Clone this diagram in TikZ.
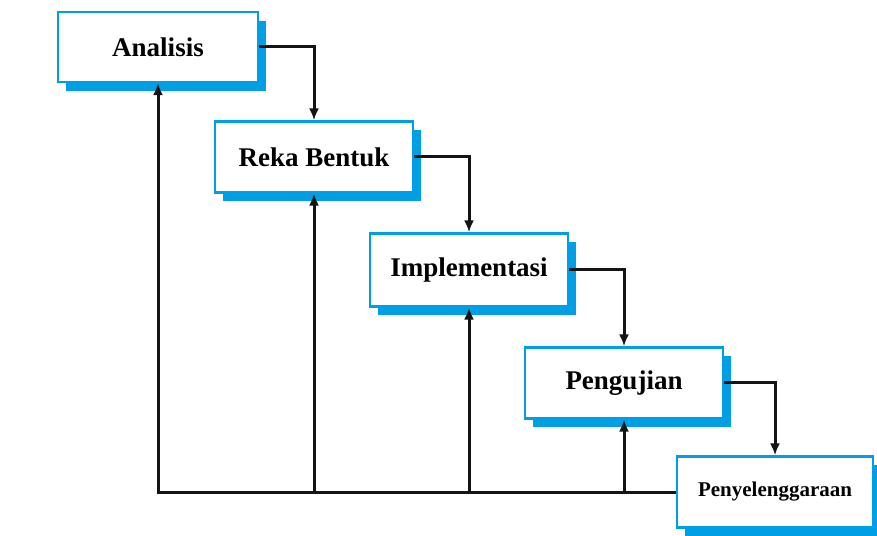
\documentclass[tikz,border=0pt]{standalone}
\usepackage{fontspec}
\setmainfont{Liberation Serif}
\usepackage{xcolor}
\definecolor{wfblue}{RGB}{0, 158, 228}
\definecolor{wfline}{RGB}{20, 20, 20}
\usepackage{tikz}
\usetikzlibrary{
    arrows.meta,
    positioning,
    calc,
    shadows
}

\begin{document}
\begin{tikzpicture}[x=1pt,y=1pt,
    phase/.style={draw=wfblue, line width=2.2pt, fill=white,
        minimum width=198pt, minimum height=71pt,
        font=\fontsize{27}{29}\selectfont\bfseries,
        drop shadow={shadow xshift=8pt, shadow yshift=-9pt,
            fill=wfblue, opacity=1}},
    flow/.style={wfline, line width=3pt, -{Latex[length=12pt,width=10pt]}}
]
    \useasboundingbox (0,0) rectangle (877,535);

    % Phases
    \node[phase, minimum width=200pt, minimum height=70pt] (analisis) at (158,488) {Analisis};
    \node[phase] (reka) at (314,378) {Reka Bentuk};
    \node[phase, minimum height=73pt] (impl) at (469,265) {Implementasi};
    \node[phase] (uji) at (624,152) {Pengujian};
    \node[phase, minimum width=196pt, font=\fontsize{21}{23}\selectfont\bfseries]
        (selenggara) at (775,43) {Penyelenggaraan};

    % Forward flow
    \draw[flow] (analisis.east) -| (reka.north);
    \draw[flow] (reka.east) -| (impl.north);
    \draw[flow] (impl.east) -| (uji.north);
    \draw[flow] (uji.east) -| (selenggara.north);

    % Feedback
    \draw[flow] (selenggara.west) -- (analisis.south |- selenggara.west) -- (analisis.south);
    \foreach \p in {reka,impl,uji} {
        \draw[flow] (\p.south |- selenggara.west) -- (\p.south);
    }
\end{tikzpicture}
\end{document}
